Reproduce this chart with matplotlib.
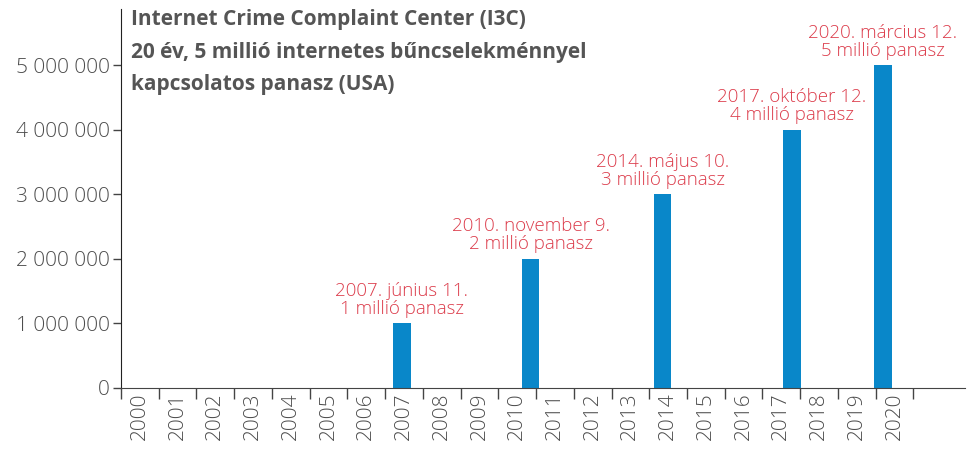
import matplotlib
matplotlib.use("Agg")
import matplotlib.pyplot as plt
from matplotlib.ticker import FixedLocator, NullFormatter, FixedFormatter
import datetime as dt

# Data
event_dates = ["2007-06-11", "2010-11-09", "2014-05-10", "2017-10-12", "2020-03-12"]
complaints = [1000000, 2000000, 3000000, 4000000, 5000000]
labels = ["2007. június 11.\n1 millió panasz",
          "2010. november 9.\n2 millió panasz",
          "2014. május 10.\n3 millió panasz",
          "2017. október 12.\n4 millió panasz",
          "2020. március 12.\n5 millió panasz"]
years = list(range(2000, 2021))
yticks = [0, 1000000, 2000000, 3000000, 4000000, 5000000]
ytick_labels = ["0", "1 000 000", "2 000 000", "3 000 000", "4 000 000", "5 000 000"]
title = "Internet Crime Complaint Center (I3C)\n20 év, 5 millió internetes bűncselekménnyel\nkapcsolatos panasz (USA)"

def dec_year(s):
    d = dt.date.fromisoformat(s)
    start = dt.date(d.year, 1, 1)
    end = dt.date(d.year + 1, 1, 1)
    return d.year + (d - start).days / (end - start).days

xs = [dec_year(s) for s in event_dates]

plt.rcParams['font.family'] = ['Open Sans', 'DejaVu Sans']
GRAY = "#4d4d4d"
RED = "#dc3c4b"
BLUE = "#0987c9"

fig = plt.figure(figsize=(9.69, 4.49), dpi=100)
ax = fig.add_axes([0.1249, 0.1359, 0.9959 - 0.1249, 0.98 - 0.1359])

ax.bar(xs, complaints, width=0.47, color=BLUE, align="center")
for x, v, lab in zip(xs, complaints, labels):
    ax.annotate(lab, (x, v), xytext=(0, 4), textcoords="offset points",
                ha="center", va="bottom", color=RED, fontsize=13.5,
                fontweight="light", linespacing=1.0)

ax.set_xlim(2000, 2022.37)
ax.set_ylim(0, 5870000)

ax.xaxis.set_major_locator(FixedLocator([y for y in years] + [2021]))
ax.xaxis.set_major_formatter(NullFormatter())
ax.xaxis.set_minor_locator(FixedLocator([y + 0.5 for y in years]))
ax.xaxis.set_minor_formatter(FixedFormatter([str(y) for y in years]))
ax.tick_params(axis="x", which="major", length=8, width=1, color="#444444", direction="out")
ax.tick_params(axis="x", which="minor", length=0, labelsize=15, labelcolor=GRAY,
               labelrotation=90, pad=3)
for t in ax.xaxis.get_minorticklabels():
    t.set_fontweight("light")

ax.set_yticks(yticks)
ax.set_yticklabels(ytick_labels, fontweight="light")
ax.tick_params(axis="y", length=6, width=1, color="#444444", labelsize=15, labelcolor=GRAY, pad=2)

for s in ["top", "right"]:
    ax.spines[s].set_visible(False)
ax.spines["left"].set_color("#222222")
ax.spines["bottom"].set_color("#444444")

fig.text(131 / 969, 1 - 9 / 449, title, ha="left", va="top", fontsize=15,
         fontweight="bold", color="#555555", linespacing=1.72)

fig.savefig("out.png", dpi=100)
